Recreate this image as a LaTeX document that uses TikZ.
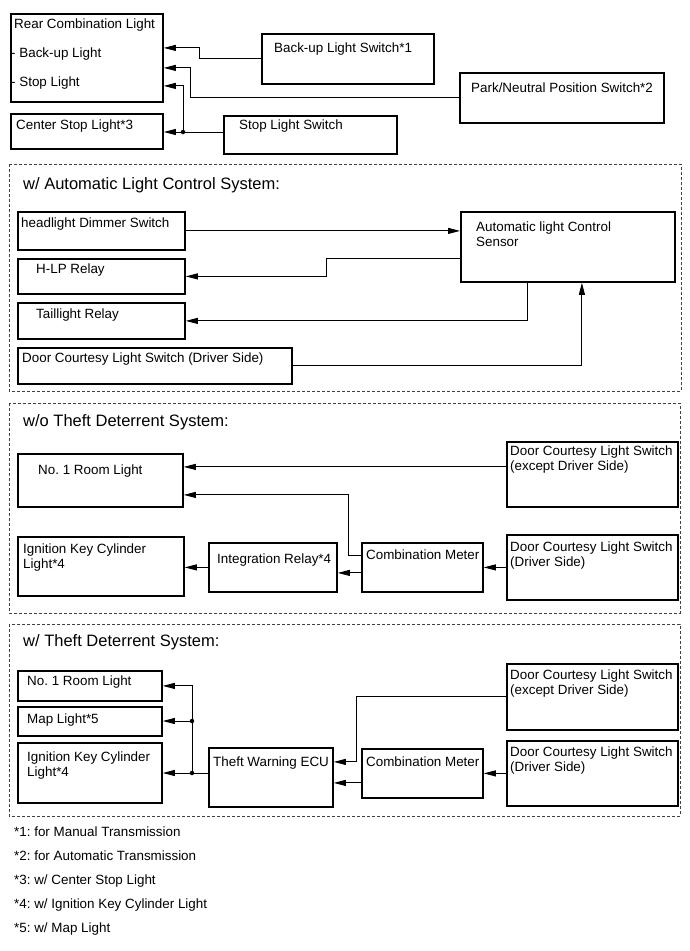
\documentclass[tikz,border=0pt]{standalone}
\usepackage{fontspec}
\setmainfont{Liberation Sans}
\usetikzlibrary{arrows.meta, positioning}

\begin{document}
\frenchspacing
\begin{tikzpicture}[
    x=1pt, y=-1pt,
    box/.style={draw, line width=1.8pt, anchor=north west, inner sep=0pt},
    txt/.style={anchor=base west, inner sep=0pt, align=left, font=\fontsize{13.4pt}{15pt}\selectfont},
    heading/.style={anchor=base west, inner sep=0pt, font=\fontsize{16.5pt}{19pt}\selectfont},
    frame/.style={draw=black!75, line width=0.9pt, dash pattern=on 3pt off 2pt},
    wire/.style={line width=0.9pt},
    arrow/.style={wire, -{Triangle[length=12pt, width=6pt]}},
    dot/.style={circle, fill, inner sep=0pt, minimum size=4.5pt}
]
    \useasboundingbox (0,0) rectangle (690,951);

    % top group
    \node[box, minimum width=152pt, minimum height=88pt] (rcl) at (10,13) {};
    \node[txt] (rcl-t) at (14,28.8) {Rear Combination Light};
    \node[txt] (rcl-b) at (11,57.8) {- Back-up Light};
    \node[txt] (rcl-s) at (11,86.8) {- Stop Light};
    \node[box, minimum width=172pt, minimum height=50pt] (bls) at (261,33) {};
    \node[txt] (bls-t) at (274,52.8) {Back-up Light Switch*1};
    \node[box, minimum width=204pt, minimum height=50pt] (pnps) at (459,72) {};
    \node[txt] (pnps-t) at (471,92.8) {Park/Neutral Position Switch*2};
    \node[box, minimum width=152pt, minimum height=35pt] (csl) at (10,113) {};
    \node[txt] (csl-t) at (16,129.8) {Center Stop Light*3};
    \node[box, minimum width=173pt, minimum height=38pt] (sls) at (223,115) {};
    \node[txt] (sls-t) at (239,129.8) {Stop Light Switch};
    \coordinate (j1) at (183,132);

    \draw[arrow] (bls.west) -- ++(-62,0) |- ([yshift=10]rcl.east);
    \draw[arrow] (pnps.west) -- ++(-269,0) |- ([yshift=-10]rcl.east);
    \draw[wire] (sls.west |- j1) -- (j1);
    \draw[arrow] (j1) |- ([yshift=-28]rcl.east);
    \draw[arrow] (j1) -- (j1 -| csl.east);
    \node[dot] (d1) at (j1) {};

    % w/ automatic light control
    \draw[frame] (9,164) rectangle (681,391);
    \node[heading] (alc-h) at (23,189.9) {w/ Automatic Light Control System:};
    \node[box, minimum width=167pt, minimum height=38pt] (hds) at (17,211) {};
    \node[txt] (hds-t) at (21,227.8) {headlight Dimmer Switch};
    \node[box, minimum width=167pt, minimum height=35pt] (hlp) at (17,258) {};
    \node[txt] (hlp-t) at (36,273.8) {H-LP Relay};
    \node[box, minimum width=167pt, minimum height=36pt] (tlr) at (17,302) {};
    \node[txt] (tlr-t) at (36,318.8) {Taillight Relay};
    \node[box, minimum width=274pt, minimum height=36pt] (dcl) at (17,347) {};
    \node[txt] (dcl-t) at (22,362.8) {Door Courtesy Light Switch (Driver Side)};
    \node[box, minimum width=214pt, minimum height=70pt] (alcs) at (460,211) {};
    \node[txt] (alcs-t) at (476,246.8) {Automatic light Control\\Sensor};

    \draw[arrow] (hds.east) -- (hds.east -| alcs.west);
    \draw[arrow] ([yshift=-12]alcs.west) -- ++(-134,0) |- (hlp.east);
    \draw[arrow] ([xshift=-40]alcs.south) |- (tlr.east);
    \draw[arrow] (dcl.east) -| ([xshift=14]alcs.south);

    % w/o theft deterrent
    \draw[frame] (9,403) rectangle (680,613);
    \node[heading] (wo-h) at (23,426.9) {w/o Theft Deterrent System:};
    \node[box, minimum width=165pt, minimum height=53pt] (room3) at (17,453) {};
    \node[txt] (room3-t) at (38,474.8) {No. 1 Room Light};
    \node[box, minimum width=166pt, minimum height=59pt] (ikc3) at (17,536) {};
    \node[txt] (ikc3-t) at (23,568.8) {Ignition Key Cylinder\\Light*4};
    \node[box, minimum width=128pt, minimum height=49pt] (ir) at (208,542) {};
    \node[txt] (ir-t) at (217,563.8) {Integration Relay*4};
    \node[box, minimum width=121pt, minimum height=49pt] (cm3) at (361,542) {};
    \node[txt] (cm3-t) at (366,559.8) {Combination Meter};
    \node[box, minimum width=171pt, minimum height=65pt] (dce3) at (506,441) {};
    \node[txt] (dce3-t) at (510,470.8) {Door Courtesy Light Switch\\(except Driver Side)};
    \node[box, minimum width=171pt, minimum height=65pt] (dcd3) at (506,534) {};
    \node[txt] (dcd3-t) at (510,566.8) {Door Courtesy Light Switch\\(Driver Side)};

    \draw[arrow] ([yshift=7.5]dce3.west) -- ([yshift=7.5]dce3.west -| room3.east);
    \draw[arrow] ([yshift=11.5]cm3.west) -- ++(-13,0) |- ([yshift=-14.5]room3.east);
    \draw[arrow] ([yshift=-5.5]cm3.west) -- ([yshift=-5.5]ir.east);
    \draw[arrow] (ir.west) -- (ir.west -| ikc3.east);
    \draw[arrow] (dcd3.west) -- (dcd3.west -| cm3.east);

    % w/ theft deterrent
    \draw[frame] (9,624) rectangle (680,816);
    \node[heading] (w-h) at (23,646.9) {w/ Theft Deterrent System:};
    \node[box, minimum width=144pt, minimum height=30pt] (room4) at (17,670) {};
    \node[txt] (room4-t) at (27,685.8) {No. 1 Room Light};
    \node[box, minimum width=144pt, minimum height=29pt] (map) at (17,706) {};
    \node[txt] (map-t) at (27,723.8) {Map Light*5};
    \node[box, minimum width=144pt, minimum height=60pt] (ikc4) at (17,742) {};
    \node[txt] (ikc4-t) at (27,776.8) {Ignition Key Cylinder\\Light*4};
    \node[box, minimum width=124pt, minimum height=59pt] (ecu) at (208,747) {};
    \node[txt] (ecu-t) at (213,766.8) {Theft Warning ECU};
    \node[box, minimum width=121pt, minimum height=49pt] (cm4) at (361,748) {};
    \node[txt] (cm4-t) at (366,766.8) {Combination Meter};
    \node[box, minimum width=171pt, minimum height=66pt] (dce4) at (506,663) {};
    \node[txt] (dce4-t) at (510,694.8) {Door Courtesy Light Switch\\(except Driver Side)};
    \node[box, minimum width=171pt, minimum height=65pt] (dcd4) at (506,740) {};
    \node[txt] (dcd4-t) at (510,771.8) {Door Courtesy Light Switch\\(Driver Side)};
    \coordinate (j2) at (192,721);
    \coordinate (j3) at (192,773);

    \draw[wire] (ecu.west |- j3) -- (j3);
    \draw[arrow] (j3) -- (j3 -| ikc4.east);
    \draw[arrow] (j3) |- (room4.east);
    \draw[arrow] (j2) -- (j2 -| map.east);
    \node[dot] (d2) at (j2) {};
    \node[dot] (d3) at (j3) {};
    \draw[arrow] ([yshift=-9.5]cm4.west) -- ([yshift=-9.5]cm4.west -| ecu.east);
    \draw[arrow] (dce4.west) -- ++(-150,0) |- ([yshift=15.5]ecu.east);
    \draw[arrow] (dcd4.west) -- (dcd4.west -| cm4.east);

    % notes
    \node[txt, font=\fontsize{13.4pt}{24pt}\selectfont] (notes) at (14,932.8)
        {*1: for Manual Transmission\\*2: for Automatic Transmission\\*3: w/ Center Stop Light\\*4: w/ Ignition Key Cylinder Light\\*5: w/ Map Light};
\end{tikzpicture}
\end{document}
